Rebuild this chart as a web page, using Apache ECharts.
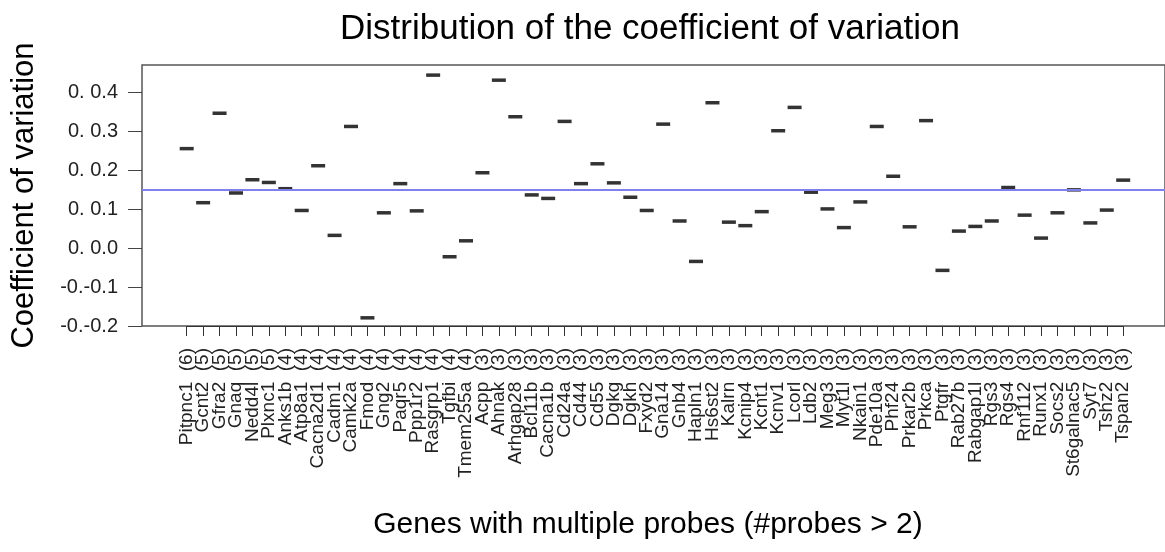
<!DOCTYPE html>
<html>
<head>
<meta charset="utf-8">
<script src="https://cdn.jsdelivr.net/npm/echarts@6/dist/echarts.min.js"></script>
<style>
html,body{margin:0;padding:0;background:#fff;}
#chart{width:1165px;height:552px;}
</style>
</head>
<body>
<div id="chart"></div>
<script>
var genes = ["Pitpnc1","Gcnt2","Gfra2","Gnaq","Nedd4l","Plxnc1","Anks1b","Atp8a1","Cacna2d1","Cadm1","Camk2a","Fmod","Gng2","Paqr5","Ppp1r2","Rasgrp1","Tgfbi","Tmem255a","Acpp","Ahnak","Arhgap28","Bcl11b","Cacna1b","Cd24a","Cd44","Cd55","Dgkg","Dgkh","Fxyd2","Gna14","Gnb4","Hapln1","Hs6st2","Kalrn","Kcnip4","Kcnt1","Kcnv1","Lcorl","Ldb2","Meg3","Myt1l","Nkain1","Pde10a","Phf24","Prkar2b","Prkca","Ptgfr","Rab27b","Rabgap1l","Rgs3","Rgs4","Rnf112","Runx1","Socs2","St6galnac5","Syt7","Tshz2","Tspan2"];
var probes = [6,5,5,5,5,5,4,4,4,4,4,4,4,4,4,4,4,4,3,3,3,3,3,3,3,3,3,3,3,3,3,3,3,3,3,3,3,3,3,3,3,3,3,3,3,3,3,3,3,3,3,3,3,3,3,3,3,3];
var cv = [0.256,0.117,0.347,0.142,0.176,0.169,0.153,0.097,0.212,0.033,0.313,-0.179,0.091,0.166,0.096,0.445,-0.022,0.019,0.194,0.432,0.338,0.137,0.128,0.326,0.166,0.217,0.168,0.131,0.097,0.319,0.070,-0.034,0.374,0.067,0.058,0.094,0.302,0.362,0.144,0.101,0.053,0.119,0.313,0.185,0.055,0.328,-0.057,0.044,0.056,0.070,0.156,0.085,0.026,0.091,0.150,0.065,0.098,0.175];
var meanCV = 0.154;
var yTickValues = [-0.2,-0.1,0.0,0.1,0.2,0.3,0.4];
var yTickLabels = ["-0.-0.2","-0.-0.1","0. 0.0","0. 0.1","0. 0.2","0. 0.3","0. 0.4"];
var titleText = "Distribution of the coefficient of variation";
var yName = "Coefficient of variation";
var xName = "Genes with multiple probes (#probes > 2)";

var categories = genes.map(function(g, i){ return g + "  (" + probes[i] + ")"; });
var FONT = "'Liberation Sans', Arial, Helvetica, sans-serif";
var yMin = -0.2, yMax = 0.471;

var chart = echarts.init(document.getElementById('chart'), null, {renderer:'canvas'});
chart.setOption({
  animation: false,
  backgroundColor: '#ffffff',
  title: [
    {text: titleText, left: 645, top: 7, textAlign: 'center',
     textStyle: {fontFamily: FONT, fontSize: 35, fontWeight: 'normal', color: '#000'}},
    {text: xName, left: 643, top: 505, textAlign: 'center',
     textStyle: {fontFamily: FONT, fontSize: 30, fontWeight: 'normal', color: '#000'}}
  ],
  grid: [
    {left: 142, top: 65, width: 1026, height: 261, show: true, borderColor: '#555', borderWidth: 1.5, backgroundColor: 'transparent', containLabel: false},
    {left: 186.7, top: 65, width: 936.5, height: 261, show: false, containLabel: false}
  ],
  xAxis: [
    {type: 'value', gridIndex: 0, min: 0, max: 1, show: false},
    {type: 'category', gridIndex: 1, data: categories, boundaryGap: false,
     axisLine: {show: true, onZero: false, lineStyle: {color: '#333', width: 1}},
     axisTick: {show: true, length: 10, interval: 0, lineStyle: {color: '#333', width: 1}},
     axisLabel: {interval: 0, rotate: 90, margin: 22, fontFamily: FONT, fontSize: 19, color: '#222'},
     splitLine: {show: false}}
  ],
  yAxis: [
    {type: 'value', gridIndex: 0, min: yMin, max: yMax, interval: 0.1,
     axisLine: {show: false},
     axisTick: {show: true, length: 14, lineStyle: {color: '#444', width: 1}},
     axisLabel: {margin: 24, fontFamily: FONT, fontSize: 20, color: '#222', showMaxLabel: false,
       formatter: function(v){
         for (var i = 0; i < yTickValues.length; i++) {
           if (Math.abs(yTickValues[i] - v) < 1e-6) return yTickLabels[i];
         }
         return '';
       }},
     splitLine: {show: false},
     name: yName, nameLocation: 'middle', nameRotate: 90, nameGap: 102,
     nameTextStyle: {fontFamily: FONT, fontSize: 31, color: '#000'}},
    {type: 'value', gridIndex: 1, min: yMin, max: yMax, show: false}
  ],
  series: [
    {type: 'scatter', xAxisIndex: 0, yAxisIndex: 0, data: [], silent: true,
     markLine: {silent: true, symbol: ['none','none'], label: {show: false},
       lineStyle: {color: '#7f7ff0', width: 2, type: 'solid'},
       data: [{yAxis: meanCV}]}},
    {type: 'scatter', xAxisIndex: 1, yAxisIndex: 1, data: cv,
     symbol: 'rect', symbolSize: [14, 3.5],
     itemStyle: {color: '#000'}, z: 3}
  ]
});
</script>
</body>
</html>
